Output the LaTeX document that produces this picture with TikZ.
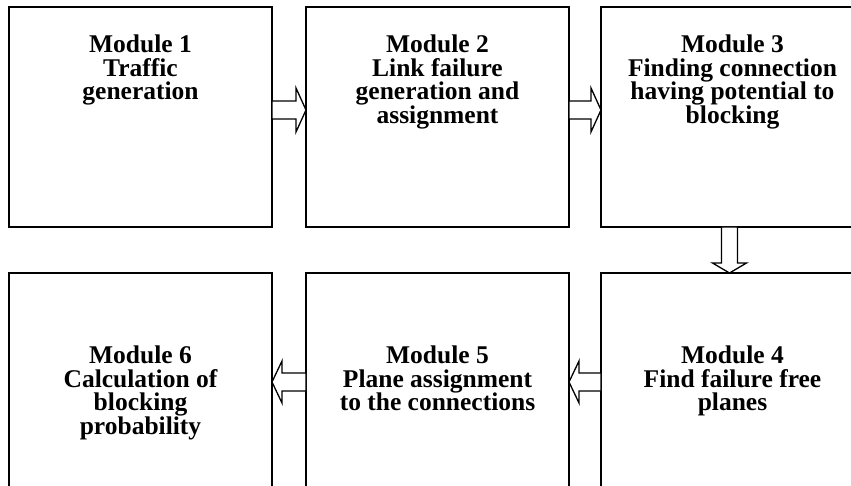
\documentclass[tikz,border=0pt]{standalone}
\usepackage{fontspec}
\setmainfont{Liberation Serif}
\usetikzlibrary{positioning,calc}
\tikzset{
  module/.style={draw=black,fill=white,line width=1.4pt,minimum width=263pt,minimum height=220pt,inner sep=0pt,outer sep=0pt},
  lowmodule/.style={module,minimum height=260pt},
  modtext/.style={align=center,font=\bfseries\fontsize{25.5}{23.5}\selectfont,inner sep=0pt},
  blockarr/.style 2 args={draw=black,fill=white,line width=1.3pt,line join=miter,
    to path={($(\tikztostart)!#1!90:(\tikztotarget)$)
      -- ($(\tikztotarget)!10pt!(\tikztostart)!#1!-90:(\tikztostart)$)
      -- ($(\tikztotarget)!10pt!(\tikztostart)!#2!-90:(\tikztostart)$)
      -- (\tikztotarget)
      -- ($(\tikztotarget)!10pt!(\tikztostart)!#2!90:(\tikztostart)$)
      -- ($(\tikztotarget)!10pt!(\tikztostart)!#1!90:(\tikztostart)$)
      -- ($(\tikztostart)!#1!-90:(\tikztotarget)$) -- cycle}}
}
\begin{document}
\begin{tikzpicture}[x=1pt,y=-1pt]
  \useasboundingbox (0,0) rectangle (851,486);
  \clip (0,0) rectangle (851,486);
  % top row
  \node[module,anchor=north west] (m1) at (9,7) {};
  \node[module,right=34pt of m1] (m2) {};
  \node[module,right=32pt of m2] (m3) {};
  % bottom row
  \node[lowmodule,below=46pt of m1.south,anchor=north] (m6) {};
  \node[lowmodule,right=34pt of m6] (m5) {};
  \node[lowmodule,right=32pt of m5] (m4) {};
  % texts
  \node[modtext,below=28pt of m1.north] (t1) {Module 1\\Traffic\\generation};
  \node[modtext,below=28pt of m2.north] (t2) {Module 2\\Link failure\\generation and\\assignment};
  \node[modtext,below=28pt of m3.north] (t3) {Module 3\\Finding connection\\having potential to\\blocking};
  \node[modtext,below=73pt of m4.north] (t4) {Module 4\\Find failure free\\planes};
  \node[modtext,below=73pt of m5.north] (t5) {Module 5\\Plane assignment\\to the connections};
  \node[modtext,below=73pt of m6.north] (t6) {Module 6\\Calculation of\\blocking\\probability};
  % arrows
  \draw[blockarr={9pt}{22pt}] ([yshift=-103pt]m1.north east) to ([yshift=-103pt]m2.north west);
  \draw[blockarr={9pt}{22pt}] ([yshift=-103pt]m2.north east) to ([yshift=-103pt]m3.north west);
  \draw[blockarr={8pt}{17pt}] ([xshift=-3pt]m3.south) to ([xshift=-3pt]m4.north);
  \draw[blockarr={9pt}{21pt}] ([yshift=-109pt]m4.north west) to ([yshift=-109pt]m5.north east);
  \draw[blockarr={9pt}{21pt}] ([yshift=-109pt]m5.north west) to ([yshift=-109pt]m6.north east);
\end{tikzpicture}
\end{document}
